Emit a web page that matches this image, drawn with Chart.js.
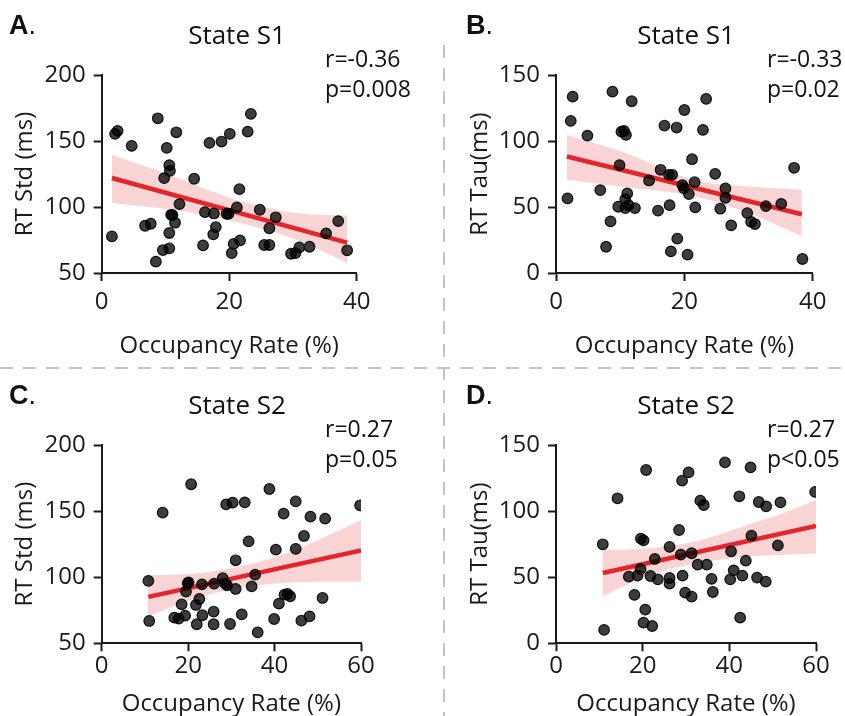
<!DOCTYPE html>
<html>
<head>
<meta charset="utf-8">
<script src="https://cdn.jsdelivr.net/npm/chart.js@4/dist/chart.umd.min.js"></script>
<style>
  html, body { margin: 0; padding: 0; background: #fff; }
  #page { position: relative; width: 845px; height: 716px; overflow: hidden; font-family: 'Open Sans', sans-serif; color: #111; }
  .box { position: absolute; }
  .txt { position: absolute; white-space: nowrap; line-height: 1.362; }
  .letter { font-size: 27px; font-family: 'Liberation Sans', Arial, sans-serif; }
  .letter b { font-weight: 700; }
  .ttl { font-size: 26px; width: 220px; text-align: center; }
  .stat { font-size: 23px; }
  svg { position: absolute; left: 0; top: 0; }
</style>
</head>
<body>
<div id="page">
  <svg width="845" height="716">
    <line x1="444" y1="45" x2="444" y2="716" stroke="#c4c4c4" stroke-width="2" stroke-dasharray="13 10"/>
    <line x1="0" y1="368" x2="845" y2="368" stroke="#c4c4c4" stroke-width="2" stroke-dasharray="13 10"/>
  </svg>
  <div class="box" style="left:0;top:0;width:443px;height:370px"><canvas id="cA"></canvas></div>
  <div class="box" style="left:455px;top:0;width:390px;height:370px"><canvas id="cB"></canvas></div>
  <div class="box" style="left:0;top:370px;width:443px;height:346px"><canvas id="cC"></canvas></div>
  <div class="box" style="left:455px;top:370px;width:390px;height:346px"><canvas id="cD"></canvas></div>

  <div class="txt letter" style="left:9px;top:7px"><b>A</b>.</div>
  <div class="txt letter" style="left:466px;top:7px"><b>B</b>.</div>
  <div class="txt letter" style="left:9px;top:377px"><b>C</b>.</div>
  <div class="txt letter" style="left:466px;top:377px"><b>D</b>.</div>

  <div class="txt ttl" style="left:127px;top:17px">State S1</div>
  <div class="txt ttl" style="left:576px;top:17px">State S1</div>
  <div class="txt ttl" style="left:127px;top:387px">State S2</div>
  <div class="txt ttl" style="left:576px;top:387px">State S2</div>

  <div class="txt stat" style="left:325px;top:43px">r=-0.36</div>
  <div class="txt stat" style="left:325px;top:73px">p=0.008</div>
  <div class="txt stat" style="left:767px;top:43px">r=-0.33</div>
  <div class="txt stat" style="left:767px;top:73px">p=0.02</div>
  <div class="txt stat" style="left:325px;top:413px">r=0.27</div>
  <div class="txt stat" style="left:325px;top:443px">p=0.05</div>
  <div class="txt stat" style="left:767px;top:413px">r=0.27</div>
  <div class="txt stat" style="left:767px;top:443px">p&lt;0.05</div>
</div>
<script>
// ---------- Panel A: State S1, RT Std ----------
const aX = [1.6,2.1,2.5,4.7,8.8,6.8,7.7,8.5,9.6,10.6,10.6,10.2,10.6,10.7,9.8,10.9,11.1,11.5,11.7,12.2,14.5,15.9,16.2,16.9,17.5,17.6,17.9,18.8,19.6,19.9,20.1,20.4,20.7,21.2,21.6,21.7,22.9,23.4,24.8,25.5,26.3,26.3,27.3,29.7,30.4,31.0,32.6,35.2,37.1,38.5];
const aY = [77.7,155.4,157.7,146.3,167.2,85.8,87.3,58.6,67.4,68.7,80.3,144.8,131.7,127.4,121.9,94.1,93.9,88.1,156.6,102.2,121.4,70.9,96.1,148.6,79.3,95.1,84.8,149.6,94.9,94.9,155.4,65.1,72.1,99.7,113.5,74.7,157.1,170.5,97.9,71.2,71.2,83.9,92.2,64.6,65.1,69.4,69.9,80.0,89.3,67.2];
const aLineX = [1.6, 38.5];
const aLineY = [122.0, 73.0];
const aBandX = [1.6, 10.2, 21.7, 31.1, 38.5];
const aBandUp = [139.5, 125.0, 104.5, 95.0, 93.5];
const aBandLo = [103.0, 98.5, 88.0, 74.0, 57.6];
const aTicksY = [50, 100, 150, 200];

// ---------- Panel B: State S1, RT Tau ----------
const bX = [1.8,2.3,2.6,4.9,6.9,7.8,8.5,8.8,9.7,9.9,10.2,10.6,10.9,10.8,11.1,10.8,11.3,11.8,12.3,14.5,15.9,16.3,16.9,17.6,17.7,17.9,18.1,18.8,18.9,19.7,20.0,19.9,20.5,20.7,21.2,21.6,21.7,22.9,23.4,24.8,25.6,26.4,26.4,27.3,29.8,30.4,31.0,32.7,35.1,37.1,38.4];
const bY = [56.5,115.2,133.6,104.1,62.8,19.9,39.1,137.4,50.2,81.7,107.1,107.6,104.6,56.0,60.3,49.2,51.4,130.1,49.2,70.1,47.2,78.2,111.7,74.4,51.4,16.4,74.4,110.2,26.0,66.6,123.5,64.3,13.9,59.8,86.2,68.8,49.7,108.4,131.9,75.1,48.7,64.0,57.0,36.1,45.4,38.8,37.1,50.7,52.4,79.7,10.6];
const bLineX = [1.7, 38.3];
const bLineY = [88.3, 44.5];
const bBandX = [1.7, 10.2, 21.7, 30.0, 38.3];
const bBandUp = [104.6, 92.0, 70.0, 65.6, 63.1];
const bBandLo = [70.6, 65.6, 58.0, 45.4, 27.8];
const bTicksY = [0, 50, 100, 150];

// ---------- Panel C: State S2, RT Std ----------
const cX = [10.8,11.0,14.1,16.8,17.8,18.5,19.3,19.5,19.9,20.1,20.7,21.8,22.0,22.6,23.2,23.3,25.9,25.9,26.0,28.0,28.6,28.8,29.0,29.7,30.3,31.0,31.0,32.4,33.1,34.0,34.7,35.5,36.1,38.8,39.9,40.3,41.0,42.1,42.3,43.0,43.6,44.9,44.9,46.8,46.2,48.3,48.1,51.1,51.7,59.8];
const cY = [97.2,66.9,148.8,69.4,68.7,79.5,70.9,89.1,95.4,96.1,170.3,79.0,64.4,83.5,94.6,71.2,74.0,64.4,95.1,99.2,95.1,155.1,93.9,64.6,156.4,91.1,112.8,71.9,156.6,127.1,93.1,101.9,58.3,166.7,68.4,120.8,80.0,148.1,86.8,87.3,85.6,157.4,121.4,131.2,67.2,145.8,70.4,84.3,144.3,154.4];
const cLineX = [10.8, 60];
const cLineY = [85.1, 120.3];
const cBandX = [10.6, 20.5, 32.0, 43.6, 52.0, 60.0];
const cBandUp = [101.7, 102.5, 108.0, 119.0, 131.0, 143.3];
const cBandLo = [70.1, 82.8, 92.0, 96.0, 96.5, 96.6];
const cTicksY = [50, 100, 150, 200];

// ---------- Panel D: State S2, RT Tau ----------
const dX = [10.8,11.1,14.2,16.8,18.1,18.8,19.5,19.6,20.2,20.6,20.2,20.8,21.8,22.2,22.8,23.5,26.2,26.2,26.2,28.4,28.8,29.2,29.1,29.8,30.6,31.3,31.3,32.7,33.3,34.1,34.8,35.9,36.2,39.0,40.2,40.4,41.0,42.3,42.5,43.0,43.8,44.9,45.1,46.4,46.8,48.5,48.4,51.2,51.8,59.8];
const dY = [74.9,10.1,109.7,50.4,36.6,51.2,56.2,79.2,77.9,25.5,15.6,131.1,50.9,13.1,63.8,48.4,49.4,45.1,72.9,85.7,67.1,51.2,123.0,38.3,129.3,68.1,35.3,59.5,107.9,104.6,59.5,48.7,38.8,136.9,48.4,69.6,55.2,111.2,19.4,51.2,62.5,133.1,81.4,49.7,106.9,103.6,46.6,74.1,106.6,114.5];
const dLineX = [10.8, 60];
const dLineY = [53.2, 88.7];
const dBandX = [10.7, 20.5, 32.1, 43.6, 52.0, 60.0];
const dBandUp = [70.6, 71.5, 77.0, 89.0, 98.0, 108.4];
const dBandLo = [35.3, 50.4, 60.5, 65.5, 67.0, 68.0];
const dTicksY = [0, 50, 100, 150];

const xTicksTop = [0, 20, 40];
const xTicksBottom = [0, 20, 40, 60];
const xTitle = 'Occupancy Rate (%)';

const FONT = "'Open Sans', sans-serif";
const INK = '#1a1a1a';
const RED = '#e3262c';
const BAND = 'rgba(228, 90, 90, 0.26)';

const zip = (xs, ys) => xs.map((x, i) => ({x, y: ys[i]}));

function makeChart(id, o) {
  const tickFont = {family: FONT, size: 24, lineHeight: 1.2};
  const axisCommon = {
    grid: {display: true, drawOnChartArea: false, drawTicks: true, tickLength: 8, tickWidth: 2, tickColor: INK, color: INK},
    border: {display: true, color: INK, width: 2}
  };
  new Chart(document.getElementById(id), {
    type: 'scatter',
    data: {
      datasets: [
        {
          label: 'points', data: zip(o.x, o.y), order: 0, clip: 0,
          pointRadius: 5.3, pointHoverRadius: 5.3, borderWidth: 1.2,
          backgroundColor: 'rgba(0,0,0,0.76)', borderColor: 'rgba(0,0,0,0.9)'
        },
        {
          label: 'fit', type: 'line', data: zip(o.lx, o.ly), order: 1,
          borderColor: RED, borderWidth: 4.5, pointRadius: 0, fill: false, borderCapStyle: 'butt'
        },
        {
          label: 'upper', type: 'line', data: zip(o.bx, o.bu), order: 2,
          borderWidth: 0, borderColor: 'rgba(0,0,0,0)', pointRadius: 0,
          cubicInterpolationMode: 'monotone', fill: '+1', backgroundColor: BAND
        },
        {
          label: 'lower', type: 'line', data: zip(o.bx, o.bl), order: 3,
          borderWidth: 0, borderColor: 'rgba(0,0,0,0)', pointRadius: 0,
          cubicInterpolationMode: 'monotone', fill: false
        }
      ]
    },
    options: {
      responsive: true, maintainAspectRatio: false, animation: false, devicePixelRatio: 1,
      layout: {padding: {top: 75, right: o.padRight, left: 0, bottom: 0}},
      plugins: {legend: {display: false}, tooltip: {enabled: false}, title: {display: false}},
      events: [],
      scales: {
        x: Object.assign({}, axisCommon, {
          type: 'linear', min: 0, max: o.xTicks[o.xTicks.length - 1],
          afterBuildTicks: s => { s.ticks = o.xTicks.map(v => ({value: v})); },
          ticks: {font: tickFont, color: INK, padding: o.xTickPad, maxRotation: 0},
          title: {display: true, text: xTitle, font: tickFont, color: INK, padding: {top: 0, bottom: o.xTitlePad}},
          afterFit: s => { s.height = o.xHeight; }
        }),
        y: Object.assign({}, axisCommon, {
          type: 'linear', min: o.yTicks[0], max: o.yTicks[o.yTicks.length - 1],
          afterBuildTicks: s => { s.ticks = o.yTicks.map(v => ({value: v})); },
          ticks: {font: tickFont, color: INK, padding: 8},
          title: {display: true, text: o.yTitle, font: tickFont, color: INK, padding: {top: 10.6, bottom: 0}},
          afterFit: s => { s.width = o.yWidth; }
        })
      }
    }
  });
}

makeChart('cA', {x: aX, y: aY, lx: aLineX, ly: aLineY, bx: aBandX, bu: aBandUp, bl: aBandLo,
  yTicks: aTicksY, xTicks: xTicksTop, yTitle: 'RT Std (ms)', padRight: 86.3, yWidth: 101.7, xHeight: 97, xTickPad: 6.6, xTitlePad: 9.6});
makeChart('cB', {x: bX, y: bY, lx: bLineX, ly: bLineY, bx: bBandX, bu: bBandUp, bl: bBandLo,
  yTicks: bTicksY, xTicks: xTicksTop, yTitle: 'RT Tau(ms)', padRight: 32.3, yWidth: 101, xHeight: 97, xTickPad: 6.6, xTitlePad: 9.6});
makeChart('cC', {x: cX, y: cY, lx: cLineX, ly: cLineY, bx: cBandX, bu: cBandUp, bl: cBandLo,
  yTicks: cTicksY, xTicks: xTicksBottom, yTitle: 'RT Std (ms)', padRight: 82, yWidth: 101.7, xHeight: 72.7, xTickPad: 0.5, xTitlePad: -3});
makeChart('cD', {x: dX, y: dY, lx: dLineX, ly: dLineY, bx: dBandX, bu: dBandUp, bl: dBandLo,
  yTicks: dTicksY, xTicks: xTicksBottom, yTitle: 'RT Tau(ms)', padRight: 29, yWidth: 101, xHeight: 72.7, xTickPad: 0.5, xTitlePad: -3});
</script>
</body>
</html>
